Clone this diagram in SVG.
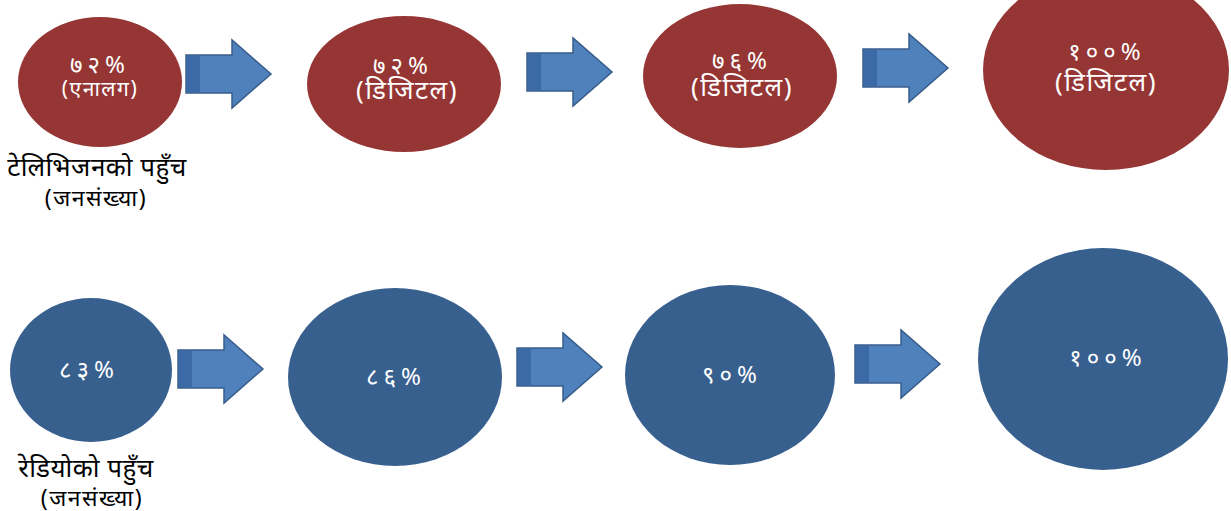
<svg xmlns="http://www.w3.org/2000/svg" width="1231" height="511" viewBox="0 0 1231 511">
<defs>
<style>
.red{fill:#963634}
.blue{fill:#38608F}
.arr{fill:#4F81BD;stroke:#385D8A;stroke-width:1.5}
.arrd{fill:#3C6AA6}
.in{fill:#ffffff;font-family:"Noto Sans",sans-serif;text-anchor:middle}
.num{font-size:24px;letter-spacing:5px}
.par{font-size:26px;letter-spacing:1.5px}
.lab{fill:#000000;font-family:"Noto Sans",sans-serif;text-anchor:middle}
</style>
<path id="ar" d="M0,15 H46 V0 L85,34 L46,68 V53 H0 Z"/>
</defs>
<rect width="1231" height="511" fill="#ffffff"/>
<g id="connectors">
<g transform="translate(186,40)"><use href="#ar" class="arr"/><rect x="1" y="16" width="13" height="36" class="arrd"/></g>
<g transform="translate(527,38)"><use href="#ar" class="arr"/><rect x="1" y="16" width="13" height="36" class="arrd"/></g>
<g transform="translate(863,34)"><use href="#ar" class="arr"/><rect x="1" y="16" width="13" height="36" class="arrd"/></g>
<g transform="translate(178,335)"><use href="#ar" class="arr"/><rect x="1" y="16" width="13" height="36" class="arrd"/></g>
<g transform="translate(517,333)"><use href="#ar" class="arr"/><rect x="1" y="16" width="13" height="36" class="arrd"/></g>
<g transform="translate(855,330)"><use href="#ar" class="arr"/><rect x="1" y="16" width="13" height="36" class="arrd"/></g>
</g>
<g id="tv1">
<ellipse cx="100" cy="82" rx="82" ry="65" class="red"/>
<text class="in"><tspan x="100" y="73" class="num">७२%</tspan><tspan x="100" y="96" font-size="21" letter-spacing="1.5">(एनालग)</tspan></text>
</g>
<g id="tv-label">
<text class="lab"><tspan x="97" y="176" font-size="26" letter-spacing="0.5">टेलिभिजनको पहुँच</tspan><tspan x="96" y="206" font-size="23" letter-spacing="1.5">(जनसंख्या)</tspan></text>
</g>
<g id="tv2">
<ellipse cx="404" cy="84" rx="97" ry="68" class="red"/>
<text class="in"><tspan x="403" y="74" class="num">७२%</tspan><tspan x="407" y="99" class="par">(डिजिटल)</tspan></text>
</g>
<g id="tv3">
<ellipse cx="740" cy="76" rx="97" ry="72" class="red"/>
<text class="in"><tspan x="742" y="69" class="num">७६%</tspan><tspan x="742" y="96" class="par">(डिजिटल)</tspan></text>
</g>
<g id="tv4">
<ellipse cx="1106" cy="70" rx="123" ry="100" class="red"/>
<text class="in"><tspan x="1107" y="60" class="num">१००%</tspan><tspan x="1106" y="91" class="par">(डिजिटल)</tspan></text>
</g>
<g id="r1">
<ellipse cx="91" cy="370" rx="81" ry="72" class="blue"/>
<text x="89" y="378" class="in num">८३%</text>
</g>
<g id="radio-label">
<text class="lab"><tspan x="86" y="477" font-size="26" letter-spacing="0.5">रेडियोको पहुँच</tspan><tspan x="92" y="506" font-size="23" letter-spacing="1.5">(जनसंख्या)</tspan></text>
</g>
<g id="r2">
<ellipse cx="395" cy="377" rx="107" ry="89" class="blue"/>
<text x="396" y="385" class="in num">८६%</text>
</g>
<g id="r3">
<ellipse cx="730" cy="375" rx="105" ry="90" class="blue"/>
<text x="732" y="383" class="in num">९०%</text>
</g>
<g id="r4">
<ellipse cx="1103" cy="359" rx="125" ry="111" class="blue"/>
<text x="1108" y="366" class="in num">१००%</text>
</g>
</svg>
